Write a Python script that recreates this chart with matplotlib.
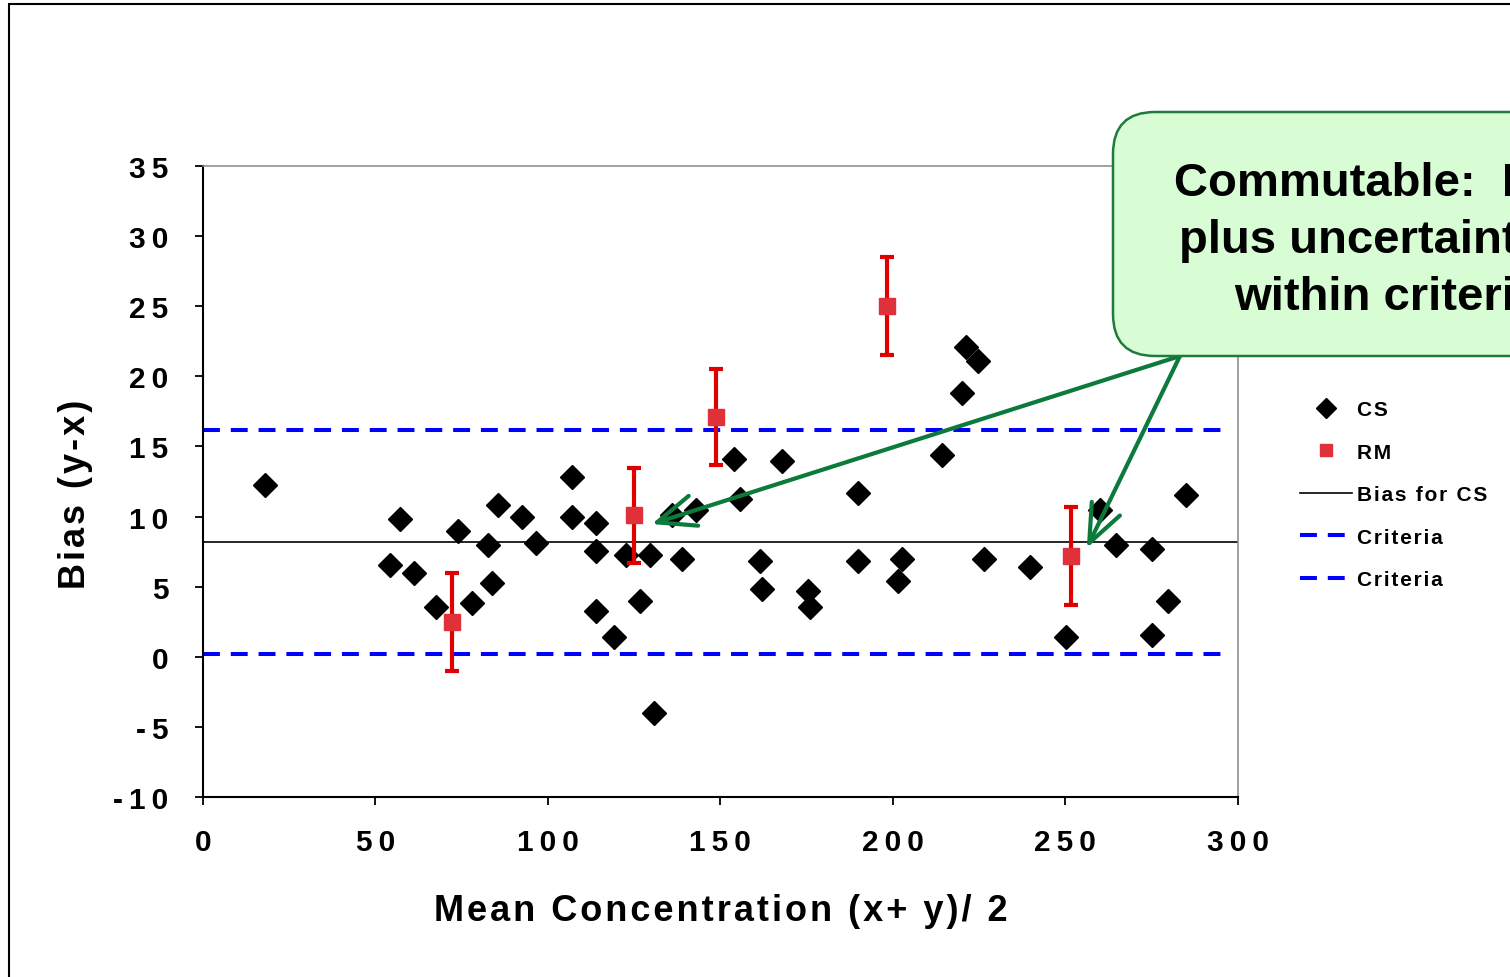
import matplotlib
matplotlib.use('Agg')
import matplotlib.pyplot as plt
from matplotlib.patches import FancyBboxPatch, Rectangle
import numpy as np

plt.rcParams['font.family'] = ['Liberation Sans', 'DejaVu Sans']
plt.rcParams['font.weight'] = 'bold'

# commutable samples (CS)
cs_mean = [18.0, 54.2, 57.1, 61.2, 67.5, 73.9, 78.0, 82.6, 83.8, 85.5,
           92.5, 96.5, 107.0, 107.0, 113.9, 113.9, 113.9, 119.1, 122.6, 126.7,
           129.6, 130.7, 135.9, 138.8, 142.9, 153.9, 155.7, 161.4, 162.0, 167.8,
           175.4, 175.9, 189.9, 189.9, 201.4, 202.6, 214.2, 220.0, 221.2, 224.6,
           226.4, 239.7, 250.1, 260.0, 264.6, 275.1, 275.1, 279.7, 284.9]
cs_bias = [12.25, 6.55, 9.8, 5.97, 3.55, 8.97, 3.84, 7.97, 5.26, 10.83,
           9.97, 8.12, 12.83, 9.97, 9.54, 7.55, 3.27, 1.41, 7.26, 3.98,
           7.26, -4.0, 10.1, 6.98, 10.5, 14.1, 11.25, 6.83, 4.83, 13.97,
           4.69, 3.55, 11.68, 6.83, 5.41, 6.98, 14.4, 18.8, 22.1, 21.1,
           6.98, 6.40, 1.41, 10.5, 7.97, 7.69, 1.56, 3.98, 11.54]

# reference materials (RM) with uncertainty
rm_mean = [72.2, 124.9, 148.7, 198.3, 251.6]
rm_bias = [2.5, 10.1, 17.1, 25.0, 7.2]
rm_unc = [3.5, 3.4, 3.4, 3.5, 3.5]

bias_cs = 8.2
crit_low = 0.2
crit_high = 16.2

xticks = [0, 50, 100, 150, 200, 250, 300]
yticks = [-10, -5, 0, 5, 10, 15, 20, 25, 30, 35]

callout = "Commutable:  Bias\nplus uncertainty is\nwithin criteria"

# Excel-like letter spacing
def spaced(s, sep='\u200a'):
    return sep.join(s)

fig = plt.figure(figsize=(15.1, 9.78), dpi=100)
ax = fig.add_axes([0.1344, 0.1840, 0.6854, 0.6452])

ax.plot([0, 300], [bias_cs, bias_cs], color='black', lw=1.2, label=spaced('Bias for CS'), zorder=2)
ax.plot([0, 296], [crit_high, crit_high], color='#0000ff', lw=2.9, dashes=(4.2, 2.7),
        label=spaced('Criteria'), zorder=2)
ax.plot([0, 296], [crit_low, crit_low], color='#0000ff', lw=2.9, dashes=(4.2, 2.7),
        label=spaced('Criteria'), zorder=2)

ax.plot(cs_mean, cs_bias, 'D', color='black', ms=12.5, mec='black', label=spaced('CS'), zorder=3)
ax.errorbar(rm_mean, rm_bias, yerr=rm_unc, fmt='none', ecolor='#e00000', elinewidth=3,
            capsize=5, capthick=3, zorder=4)
ax.plot(rm_mean, rm_bias, 's', color='#e0313a', ms=11, mec='#e0313a', label=spaced('RM'), zorder=5)

ax.set_xlim(0, 300)
ax.set_ylim(-10, 35)
ax.set_xticks(xticks)
ax.set_yticks(yticks)
ax.set_xticklabels([spaced(str(v), '\u2009') for v in xticks])
ax.set_yticklabels([spaced(str(v), '\u2009') for v in yticks])
ax.tick_params(direction='out', length=6, width=1.3, labelsize=21.5, color='black')
ax.tick_params(axis='x', pad=16)
ax.tick_params(axis='y', pad=19)

for side in ['top', 'right']:
    ax.spines[side].set_color('#888888')
    ax.spines[side].set_linewidth(1.1)
for side in ['left', 'bottom']:
    ax.spines[side].set_linewidth(1.5)

ax.set_xlabel(spaced('Mean Concentration (x+ y)/ 2'), fontsize=26, fontweight='bold')
ax.set_ylabel(spaced('Bias (y-x)'), fontsize=26, fontweight='bold')
ax.xaxis.set_label_coords(0.5, -0.152)
ax.yaxis.set_label_coords(-0.106, 0.481)

handles, labels = ax.get_legend_handles_labels()
order = [3, 4, 0, 1, 2]
ax.legend([handles[i] for i in order], [labels[i] for i in order],
          loc='upper left', bbox_to_anchor=(0.861, 0.590), bbox_transform=fig.transFigure,
          frameon=False, fontsize=15, handlelength=2.5, handletextpad=0.25,
          labelspacing=1.13, borderpad=0, borderaxespad=0, markerscale=0.8, numpoints=1)

# arrows from the callout box
green = '#0b7a3a'
for tx, ty in [(130.1, 9.47), (256.2, 7.76)]:
    ax.annotate('', xy=(tx, ty), xytext=(283.2, 21.45),
                arrowprops=dict(arrowstyle='->,head_length=1.1,head_width=0.45', lw=3,
                                color=green, shrinkA=0, shrinkB=0, mutation_scale=25))

# callout box
box = FancyBboxPatch((11.13, 6.21), 5.0, 2.44, boxstyle='round,pad=0,rounding_size=0.42',
                     transform=fig.dpi_scale_trans, facecolor='#d8fcd4', edgecolor='#1e7b3c',
                     lw=1.8, zorder=5)
fig.add_artist(box)
fig.text(13.88, 7.37, callout, transform=fig.dpi_scale_trans, ha='center', va='center',
         multialignment='center', fontsize=34, fontweight='bold', linespacing=1.38, zorder=6)

# outer frame
frame = Rectangle((0.09, -1.0), 20, 10.73, transform=fig.dpi_scale_trans, fill=False,
                  edgecolor='black', lw=1.5, zorder=7)
fig.add_artist(frame)

fig.savefig('out.png', dpi=100)
